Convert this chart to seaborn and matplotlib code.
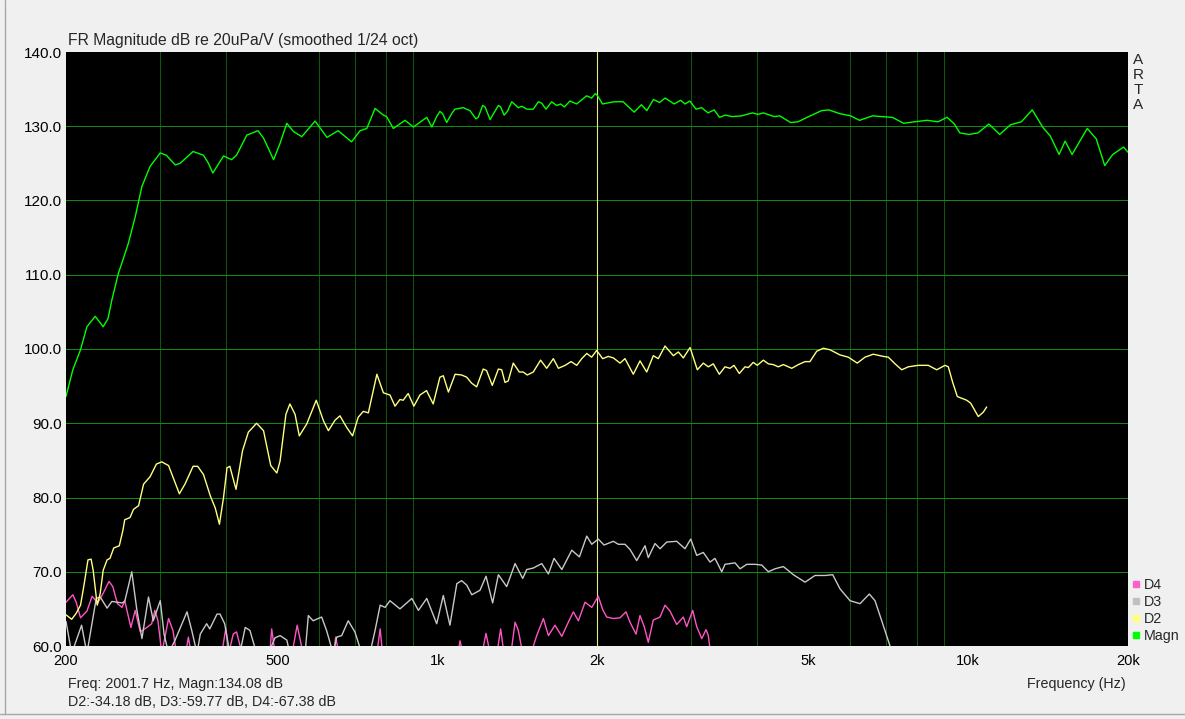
import numpy as np
import pandas as pd
import matplotlib.pyplot as plt
import seaborn as sns
from matplotlib.lines import Line2D
from matplotlib.ticker import NullFormatter

# ARTA frequency response screenshot
magn_freq = [200, 206, 213, 219, 227, 235, 240, 244, 251, 256,
             262, 270, 278, 288, 301, 309, 321, 328, 347, 363,
             371, 378, 396, 410, 419, 438, 460, 471, 492, 506,
             521, 536, 556, 589, 620, 651, 690, 716, 737, 764,
             792, 803, 827, 870, 902, 956, 977, 998, 1012, 1024,
             1042, 1065, 1080, 1120, 1153, 1183, 1195, 1218, 1231, 1258,
             1304, 1317, 1337, 1356, 1382, 1422, 1443, 1475, 1517, 1551,
             1574, 1603, 1643, 1679, 1709, 1736, 1779, 1831, 1912, 1954,
             1985, 2006, 2048, 2154, 2240, 2350, 2425, 2482, 2555, 2624,
             2687, 2795, 2874, 2930, 2991, 3073, 3148, 3237, 3324, 3403,
             3485, 3596, 3742, 3926, 4021, 4115, 4314, 4417, 4630, 4782,
             4975, 5294, 5464, 5731, 6008, 6244, 6606, 6874, 7200, 7558,
             7922, 8368, 8773, 9128, 9420, 9645, 10034, 10436, 10938, 11466,
             12016, 12596, 13202, 13840, 14274, 14834, 15226, 15690, 16760, 17428,
             18080, 18720, 19620, 20000]
magn_db = [93.6, 97.2, 99.9, 103.0, 104.4, 103.0, 104.1, 106.6, 110.2, 112.0,
           114.2, 117.8, 121.9, 124.6, 126.4, 126.1, 124.8, 125.0, 126.6, 126.1,
           125.0, 123.7, 126.0, 125.5, 126.1, 128.8, 129.4, 128.4, 125.5, 127.7,
           130.4, 129.3, 128.6, 130.7, 128.5, 129.4, 127.9, 129.4, 129.7, 132.4,
           131.5, 131.3, 129.7, 130.8, 129.9, 131.2, 129.9, 131.3, 132.0, 131.7,
           130.5, 131.7, 132.3, 132.5, 132.1, 131.0, 131.2, 132.8, 132.6, 130.9,
           132.8, 132.6, 131.5, 132.0, 133.3, 132.5, 132.7, 132.3, 132.3, 133.3,
           133.1, 132.3, 133.3, 132.8, 133.0, 132.6, 133.4, 133.0, 134.1, 133.8,
           134.4, 134.1, 133.0, 133.3, 133.3, 131.9, 132.9, 132.1, 133.6, 133.2,
           133.8, 133.0, 133.5, 133.0, 133.4, 132.3, 132.5, 131.8, 132.2, 131.2,
           131.5, 131.3, 131.4, 131.8, 131.6, 131.8, 131.3, 131.4, 130.5, 130.6,
           131.2, 132.1, 132.2, 131.7, 131.4, 130.8, 131.4, 131.3, 131.2, 130.4,
           130.6, 130.8, 130.6, 131.2, 130.3, 129.1, 128.9, 129.1, 130.3, 128.9,
           130.2, 130.6, 132.2, 129.8, 128.7, 126.2, 128.0, 126.2, 129.7, 128.3,
           124.7, 126.2, 127.2, 126.5]

d2_freq = [200, 205, 209, 213, 216, 220, 223, 225, 229, 232,
           235, 239, 242, 246, 252, 256, 258, 264, 268, 274,
           280, 288, 296, 303, 312, 319, 327, 335, 347, 354,
           363, 374, 382, 389, 396, 402, 407, 418, 430, 441,
           457, 471, 486, 499, 506, 519, 528, 540, 550, 568,
           592, 611, 624, 642, 656, 676, 693, 710, 726, 742,
           770, 792, 815, 833, 851, 863, 882, 904, 928, 955,
           983, 1012, 1027, 1050, 1081, 1112, 1137, 1161, 1187, 1221,
           1239, 1270, 1304, 1323, 1342, 1361, 1391, 1428, 1452, 1478,
           1517, 1566, 1608, 1655, 1692, 1742, 1787, 1832, 1872, 1913,
           1954, 1997, 2050, 2100, 2147, 2210, 2258, 2341, 2410, 2481,
           2553, 2609, 2686, 2785, 2846, 2908, 2994, 3090, 3171, 3241,
           3312, 3399, 3484, 3561, 3623, 3707, 3800, 3855, 3939, 4008,
           4114, 4204, 4296, 4390, 4487, 4653, 4788, 4930, 5035, 5186,
           5337, 5493, 5737, 5947, 6184, 6394, 6629, 6922, 7074, 7283,
           7497, 7715, 8056, 8413, 8725, 9045, 9176, 9352, 9541, 9937,
           10111, 10450, 10680, 10838]
d2_db = [64.2, 63.6, 64.4, 65.5, 68.0, 71.6, 71.7, 70.2, 65.5, 67.1,
         70.2, 71.6, 71.8, 73.2, 73.5, 75.6, 77.0, 77.3, 78.4, 78.9,
         81.8, 82.8, 84.5, 84.8, 84.3, 82.5, 80.5, 81.8, 84.2, 84.2,
         83.1, 80.2, 78.6, 76.4, 80.0, 84.0, 84.2, 81.1, 86.3, 88.8,
         90.0, 89.0, 84.3, 83.3, 84.9, 91.2, 92.6, 91.2, 88.3, 89.9,
         93.1, 90.3, 89.0, 90.4, 91.0, 89.4, 88.3, 90.8, 91.6, 91.4,
         96.6, 94.1, 93.8, 92.3, 93.2, 93.1, 94.0, 92.3, 93.8, 94.4,
         92.6, 96.2, 96.4, 94.2, 96.6, 96.5, 96.2, 95.4, 94.9, 97.3,
         97.1, 95.1, 97.3, 97.2, 95.5, 95.7, 98.1, 96.9, 96.9, 96.5,
         96.9, 98.5, 97.4, 98.7, 97.4, 97.8, 98.3, 97.8, 98.7, 99.4,
         98.9, 99.8, 98.7, 99.0, 98.8, 98.1, 98.7, 96.6, 98.4, 96.9,
         99.1, 98.7, 100.4, 99.1, 99.6, 98.8, 100.2, 97.2, 98.1, 97.6,
         98.0, 96.6, 97.6, 97.4, 97.8, 96.7, 97.6, 97.5, 98.2, 97.8,
         98.5, 98.0, 97.9, 97.6, 97.9, 97.4, 97.9, 98.3, 98.3, 99.7,
         100.1, 99.9, 99.2, 98.9, 98.1, 98.9, 99.3, 99.0, 98.9, 98.0,
         97.2, 97.6, 97.8, 97.8, 97.2, 97.8, 97.6, 95.5, 93.6, 93.1,
         92.7, 90.9, 91.5, 92.2]

d3_freq = [200, 205, 214, 219, 228, 232, 239, 244, 255, 258,
           262, 266, 272, 278, 286, 292, 301, 306, 312, 321,
           338, 345, 353, 358, 368, 373, 385, 390, 398, 407,
           425, 435, 444, 457, 481, 495, 506, 521, 528, 564,
           572, 584, 606, 619, 637, 647, 661, 680, 700, 721,
           747, 764, 781, 798, 815, 851, 896, 922, 956, 998,
           1027, 1057, 1089, 1112, 1137, 1162, 1204, 1236, 1272, 1304,
           1352, 1402, 1449, 1475, 1517, 1574, 1620, 1660, 1717, 1793,
           1853, 1913, 1955, 2011, 2062, 2147, 2194, 2258, 2308, 2376,
           2463, 2498, 2572, 2629, 2706, 2826, 2929, 3003, 3082, 3171,
           3265, 3336, 3435, 3484, 3639, 3719, 3828, 3968, 4086, 4204,
           4328, 4487, 4686, 4930, 5148, 5376, 5558, 5737, 5992, 6257,
           6514, 6677, 6874, 7126, 7350]
d3_db = [63.3, 59.0, 62.8, 59.0, 66.4, 66.6, 65.1, 66.0, 65.8, 66.0,
         68.0, 70.0, 64.8, 61.0, 66.6, 63.4, 66.1, 61.6, 59.0, 60.8,
         64.6, 62.1, 59.0, 61.6, 63.0, 62.3, 64.3, 64.3, 63.0, 59.0,
         59.0, 62.5, 62.1, 59.0, 59.0, 61.1, 61.4, 60.8, 59.0, 59.0,
         64.1, 63.4, 63.9, 62.1, 59.0, 61.2, 61.4, 63.4, 61.9, 59.0,
         59.0, 62.1, 65.5, 65.2, 66.1, 65.0, 66.4, 64.8, 66.4, 63.0,
         66.8, 62.8, 68.4, 68.8, 68.2, 66.9, 67.5, 69.4, 65.8, 69.6,
         68.0, 71.1, 69.1, 70.3, 70.5, 71.1, 69.7, 71.8, 70.3, 72.9,
         72.0, 74.8, 73.7, 74.4, 73.6, 74.1, 73.7, 73.7, 73.0, 71.5,
         73.5, 71.9, 73.8, 73.1, 74.0, 74.1, 73.1, 74.4, 72.2, 72.6,
         71.3, 71.8, 70.0, 71.0, 71.2, 70.4, 71.0, 71.0, 70.9, 70.0,
         70.4, 70.7, 69.6, 68.6, 69.5, 69.5, 69.6, 67.7, 66.1, 65.7,
         67.0, 66.1, 63.4, 60.0, 57.0]

d4_freq = [200, 206, 209, 213, 219, 224, 227, 229, 235, 241,
           245, 250, 255, 258, 265, 270, 276, 284, 290, 294,
           298, 303, 312, 318, 323, 336, 340, 344, 393, 400,
           405, 413, 419, 429, 484, 488, 495, 533, 545, 559,
           639, 644, 653, 770, 781, 789, 1095, 1104, 1119, 1215,
           1236, 1258, 1296, 1317, 1336, 1377, 1402, 1422, 1449, 1502,
           1540, 1585, 1620, 1667, 1717, 1766, 1805, 1845, 1899, 1955,
           2011, 2050, 2086, 2147, 2210, 2268, 2308, 2369, 2410, 2455,
           2498, 2553, 2629, 2686, 2745, 2826, 2908, 2951, 3029, 3082,
           3150, 3209, 3241, 3300]
d4_db = [65.9, 66.9, 65.9, 63.8, 64.7, 66.7, 66.2, 65.7, 67.1, 68.7,
         68.0, 65.7, 65.2, 66.1, 62.5, 64.8, 61.9, 62.5, 63.0, 64.8,
         63.4, 59.0, 63.7, 62.1, 59.0, 59.0, 61.2, 59.0, 59.0, 62.4,
         59.0, 61.6, 61.9, 59.0, 59.0, 62.3, 59.0, 59.0, 62.8, 59.0,
         59.0, 61.2, 59.0, 59.0, 62.3, 59.0, 59.0, 60.7, 59.0, 59.0,
         61.7, 59.0, 59.0, 62.3, 59.0, 59.0, 63.2, 62.1, 59.0, 59.0,
         61.4, 63.7, 61.4, 62.8, 61.3, 63.2, 64.6, 63.4, 65.9, 65.2,
         66.7, 64.9, 63.9, 63.7, 63.8, 64.6, 63.2, 61.6, 64.1, 62.6,
         60.5, 63.5, 63.9, 65.5, 64.7, 62.9, 63.9, 62.6, 64.8, 62.6,
         61.0, 62.2, 61.4, 57.0]

curve_names = ['D4', 'D3', 'D2', 'Magn']
curve_colors = ['#ff55c4', '#c8c8c8', '#ffff80', '#00ff00']
legend_colors = ['#ff60c8', '#c0c0c0', '#ffff80', '#00ff00']

cursor_freq = 2001.7
cursor_magn = 134.08
cursor_rel = [('D2', -34.18), ('D3', -59.77), ('D4', -67.38)]

y_ticks = [60, 70, 80, 90, 100, 110, 120, 130, 140]
x_tick_freqs = [200, 500, 1000, 2000, 5000, 10000, 20000]
x_tick_labels = ['200', '500', '1k', '2k', '5k', '10k', '20k']
grid_freqs = [300, 400, 500, 600, 700, 800, 900,
              1000, 2000, 3000, 4000, 5000, 6000, 7000, 8000, 9000, 10000]

sns.set_theme(style='dark')
plt.rcParams['font.family'] = ['Liberation Sans', 'DejaVu Sans']

W, H = 1185, 719
fig = plt.figure(figsize=(W / 100, H / 100), dpi=100, facecolor='#f0f0f0')
ax = fig.add_axes([66 / W, 1 - 646 / H, (1128 - 66) / W, (646 - 52) / H])
ax.set_facecolor('black')

df = pd.concat([
    pd.DataFrame({'freq': d4_freq, 'db': d4_db, 'curve': 'D4'}),
    pd.DataFrame({'freq': d3_freq, 'db': d3_db, 'curve': 'D3'}),
    pd.DataFrame({'freq': d2_freq, 'db': d2_db, 'curve': 'D2'}),
    pd.DataFrame({'freq': magn_freq, 'db': magn_db, 'curve': 'Magn'}),
], ignore_index=True)

sns.lineplot(data=df, x='freq', y='db', hue='curve', hue_order=curve_names,
             palette=dict(zip(curve_names, curve_colors)), estimator=None,
             sort=False, legend=False, linewidth=1.0, ax=ax)

ax.set_xscale('log')
ax.set_xlim(200, 20000)
ax.set_ylim(60, 140)
ax.set_xticks(x_tick_freqs)
ax.set_xticklabels(x_tick_labels)
ax.set_xticks(grid_freqs, minor=True)
ax.xaxis.set_minor_formatter(NullFormatter())
ax.set_yticks(y_ticks)
ax.set_yticklabels([f'{v:.1f}' for v in y_ticks])
ax.tick_params(which='both', length=0, colors='black')
ax.tick_params(axis='x', pad=6, labelsize=10.5)
ax.tick_params(axis='y', pad=3, labelsize=11)
ax.set_xlabel('')
ax.set_ylabel('')

# grid: horizontal brighter green, vertical dark green, none on the frame edges
ax.grid(False)
ax.xaxis.grid(True, which='minor', color='#0b5a0b', lw=0.72, antialiased=False)
ax.yaxis.grid(True, which='major', color='#118a11', lw=0.72, antialiased=False)
for t in ax.yaxis.get_major_ticks():
    if t.get_loc() in (60, 140):
        t.gridline.set_visible(False)
ax.set_axisbelow(True)
for s in ax.spines.values():
    s.set_visible(False)

# cursor
ax.axvline(cursor_freq, color='#eaea88', lw=0.8, zorder=1.5)

fig.text(68 / W, 1 - 40 / H, 'FR Magnitude dB re 20uPa/V (smoothed 1/24 oct)',
         fontsize=11.3, va='center', ha='left')
fig.text(1138 / W, 1 - 53 / H, 'A\nR\nT\nA', fontsize=11, ha='center', va='top',
         linespacing=1.08)
fig.text(68 / W, 1 - 684 / H, f'Freq: {cursor_freq} Hz, Magn:{cursor_magn:.2f} dB',
         fontsize=10.3, va='center', ha='left')
fig.text(68 / W, 1 - 702 / H, ', '.join(f'{n}:{v:.2f} dB' for n, v in cursor_rel),
         fontsize=10.3, va='center', ha='left')
fig.text(1126 / W, 1 - 684 / H, 'Frequency (Hz)', fontsize=10.3, va='center', ha='right')

handles = [Line2D([], [], ls='none', marker='s', ms=5, mfc=c, mec=c) for c in legend_colors]
fig.legend(handles, curve_names, loc='upper left', bbox_to_anchor=(1132 / W, 1 - 578 / H),
           frameon=False, fontsize=10.3, handlelength=0.5, handletextpad=0.35,
           labelspacing=0.2, borderpad=0, borderaxespad=0)

# window frame lines
fig.add_artist(Line2D([0, 1], [1 - 714 / H] * 2, transform=fig.transFigure, color='#a8a8a8', lw=1))
fig.add_artist(Line2D([5 / W] * 2, [1 - 714 / H, 1], transform=fig.transFigure, color='#a8a8a8', lw=1))

fig.savefig('out.png', dpi=100, facecolor=fig.get_facecolor())
